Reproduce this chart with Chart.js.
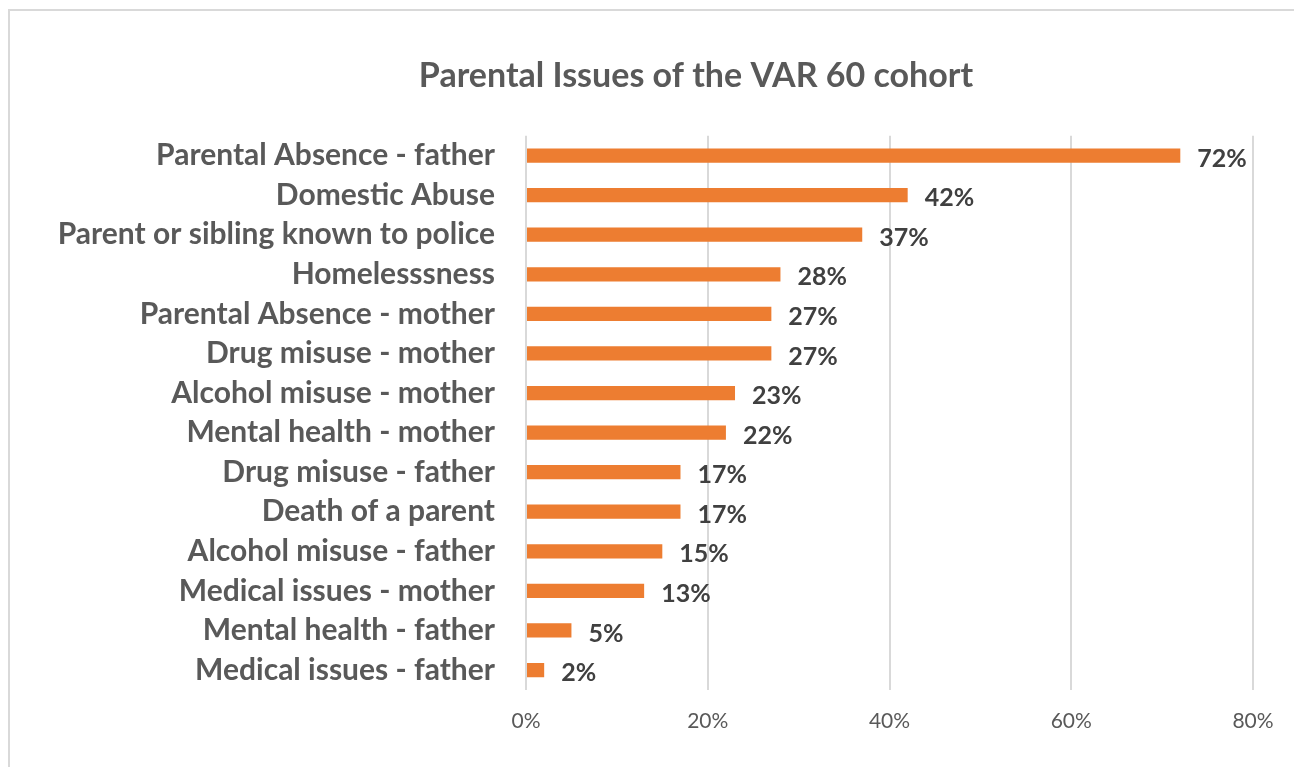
<!DOCTYPE html>
<html>
<head>
<meta charset="utf-8">
<script src="https://cdn.jsdelivr.net/npm/chart.js@4"></script>
<style>
  html, body { margin: 0; padding: 0; background: #fff; overflow: hidden; }
  #frame { position: absolute; left: 8px; top: 9px; width: 1400px; height: 900px;
           border-left: 2px solid #d9d9d9; border-top: 2px solid #d9d9d9; }
  #wrap { position: absolute; left: 0; top: 0; width: 1294px; height: 767px; overflow: hidden; }
</style>
</head>
<body>
<div id="frame"></div>
<div id="wrap"><canvas id="issuesChart" width="1392" height="767"></canvas></div>
<script>
// Dados do gráfico
var categorias = [
  'Parental Absence - father',
  'Domestic Abuse',
  'Parent or sibling known to police',
  'Homelesssness',
  'Parental Absence - mother',
  'Drug misuse - mother',
  'Alcohol misuse - mother',
  'Mental health - mother',
  'Drug misuse - father',
  'Death of a parent',
  'Alcohol misuse - father',
  'Medical issues - mother',
  'Mental health - father',
  'Medical issues - father'
];
var percentuais = [72, 42, 37, 28, 27, 27, 23, 22, 17, 17, 15, 13, 5, 2];
var ticksX = [0, 20, 40, 60, 80];

var cinza = '#595959';

// Plugin simples para escrever o valor ao lado de cada barra
var rotulosBarras = {
  id: 'rotulosBarras',
  afterDatasetsDraw: function(chart) {
    var ctx = chart.ctx;
    var meta = chart.getDatasetMeta(0);
    ctx.save();
    ctx.font = 'bold 25px Lato';
    ctx.fillStyle = '#404040';
    ctx.textAlign = 'left';
    ctx.textBaseline = 'middle';
    meta.data.forEach(function(bar, i) {
      ctx.fillText(percentuais[i] + '%', bar.x + 17, bar.y + 3);
    });
    ctx.restore();
  }
};

var ctx = document.getElementById('issuesChart').getContext('2d');
var myChart = new Chart(ctx, {
  type: 'bar',
  data: {
    labels: categorias,
    datasets: [{
      data: percentuais,
      backgroundColor: '#ED7D31',
      categoryPercentage: 1,
      barPercentage: 0.36
    }]
  },
  options: {
    indexAxis: 'y',
    responsive: false,
    animation: false,
    layout: { padding: { left: 0, right: 0, top: 0, bottom: 14 } },
    plugins: {
      legend: { display: false },
      tooltip: { enabled: false },
      title: {
        display: true,
        text: 'Parental Issues of the VAR 60 cohort',
        color: cinza,
        font: { family: 'Lato', size: 34, weight: 'bold' },
        padding: { top: 56, bottom: 39 }
      }
    },
    scales: {
      x: {
        min: 0,
        max: 80,
        afterBuildTicks: function(scale) {
          scale.ticks = ticksX.map(function(v) { return { value: v }; });
        },
        grid: { color: '#d9d9d9', lineWidth: 2, drawTicks: false },
        border: { display: false },
        ticks: {
          color: cinza,
          padding: 19,
          font: { family: 'Lato', size: 21 },
          callback: function(v) { return v + '%'; }
        }
      },
      y: {
        afterFit: function(scale) { scale.width = 526; },
        grid: { display: false, drawTicks: false },
        border: { display: false },
        ticks: {
          color: cinza,
          padding: 31,
          font: { family: 'Lato', size: 30, weight: 'bold' }
        }
      },
      // eixo vazio à direita: reserva espaço para o título ficar centrado como no original
      yVazio: {
        type: 'category',
        position: 'right',
        afterFit: function(scale) { scale.width = 139; },
        grid: { display: false, drawTicks: false },
        border: { display: false },
        ticks: { display: false }
      }
    }
  },
  plugins: [rotulosBarras]
});
</script>
</body>
</html>
